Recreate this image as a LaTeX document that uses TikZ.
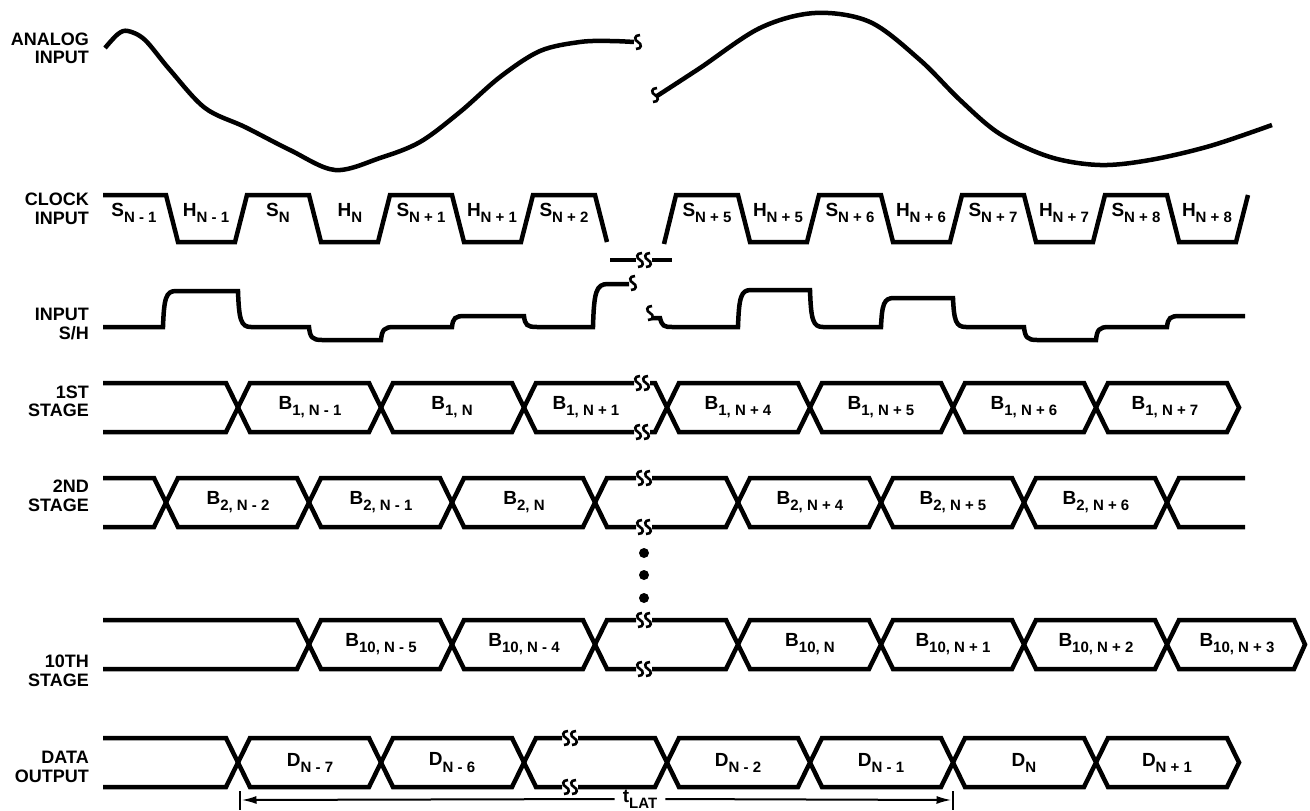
\documentclass[tikz,border=0pt]{standalone}
\usepackage{fontspec}
\setmainfont{Liberation Sans}
\usetikzlibrary{arrows.meta}
\newcommand\sbx[1]{\raisebox{-0.32em}{\fontsize{15}{15}\selectfont #1}}
\begin{document}
\begin{tikzpicture}[x=1pt,y=-1pt,
 wave/.style={line width=4.5pt, line join=miter, line cap=butt},
 sq/.style={line width=2.6pt},
 lbl/.style={font=\fontsize{18}{18.5}\selectfont\bfseries, align=right, anchor=east, inner sep=0pt},
 val/.style={font=\fontsize{19}{19}\selectfont\bfseries, inner sep=0pt},
 arr/.style={line width=2pt,-{Latex[length=15pt,width=8pt]}},
 squig/.pic={\draw[sq] (2,-7) .. controls (-4,-7) and (-4,-2) .. (0,0) .. controls (4,2) and (4,7) .. (-2,7);}
]
\useasboundingbox (0,0) rectangle (1310,811);

% ---------- labels ----------
\node[lbl] (lan) at (89,48.5) {ANALOG\\INPUT};
\node[lbl] (lck) at (89,209) {CLOCK\\INPUT};
\node[lbl] (lsh) at (89,324) {INPUT\\S/H};
\node[lbl] (l1) at (89,401.5) {1ST\\STAGE};
\node[lbl] (l2) at (89,496) {2ND\\STAGE};
\node[lbl] (l10) at (89,671) {10TH\\STAGE};
\node[lbl] (ld) at (89,767) {DATA\\OUTPUT};

% ---------- analog input ----------
\draw[wave, line join=round] plot[smooth, tension=0.55] coordinates {(105,48) (118,34) (128,31) (145,40) (170,70) (205,108) (245,127) (290,150) (335,170) (380,158) (420,142) (460,112) (500,77) (540,51) (580,42) (610,41) (634,42)};
\pic at (638,42) {squig};
\pic at (655,95) {squig};
\draw[wave, line join=round] plot[smooth, tension=0.55] coordinates {(657,96) (700,68) (760,28) (815,13) (870,22) (920,60) (960,100) (1000,134) (1050,157) (1100,165) (1150,160) (1210,146) (1272,125)};

% ---------- clock ----------
\draw[wave] (103,195) -- (166,195) -- (178,242) -- (235,242) -- (247,195) -- (309,195) -- (321,242) -- (378,242) -- (390,195) -- (452,195) -- (464,242) -- (521,242) -- (533,195) -- (595,195) -- (607,242);
\draw[wave] (664,244) -- (676,195) -- (738,195) -- (750,242) -- (807,242) -- (819,195) -- (881,195) -- (893,242) -- (950,242) -- (962,195) -- (1024,195) -- (1036,242) -- (1093,242) -- (1105,195) -- (1167,195) -- (1179,242) -- (1236,242) -- (1248,195);
\draw[wave] (610,260) -- (636,260);
\draw[wave] (652,260) -- (672,260);
\pic at (640,260) {squig};
\pic at (648,260) {squig};
\foreach \x/\t in {134/S\sbx{N - 1},278/S\sbx{N},421/S\sbx{N + 1},564/S\sbx{N + 2},707/S\sbx{N + 5},850/S\sbx{N + 6},993/S\sbx{N + 7},1136/S\sbx{N + 8}}
  \node[val] (s\x) at (\x,213) {\t};
\foreach \x/\t in {206/H\sbx{N - 1},350/H\sbx{N},492/H\sbx{N + 1},778/H\sbx{N + 5},921/H\sbx{N + 6},1064/H\sbx{N + 7},1207/H\sbx{N + 8}}
  \node[val] (h\x) at (\x,213) {\t};

% ---------- input S/H ----------
\draw[wave] (103,327) -- (163,327) .. controls (164,298) and (166,291) .. (176,291) -- (238,291) .. controls (239,320) and (241,327) .. (251,327) -- (309,327) .. controls (310,337) and (312,340) .. (322,340) -- (381,340) .. controls (382,330) and (384,327) .. (394,327) -- (452,327) .. controls (453,318) and (455,316) .. (465,316) -- (524,316) .. controls (525,325) and (527,327) .. (537,327) -- (593,327) .. controls (594,292) and (596,284) .. (608,284) -- (629,284);
\pic at (633,283) {squig};
\pic at (650,313) {squig};
\draw[wave] (652,318) -- (660,318) .. controls (662,326) and (664,327) .. (672,327) -- (738,327) .. controls (739,297) and (741,290) .. (751,290) -- (810,290) .. controls (811,320) and (813,327) .. (823,327) -- (881,327) .. controls (882,304) and (884,298) .. (894,298) -- (953,298) .. controls (954,321) and (956,327) .. (966,327) -- (1024,327) .. controls (1025,337) and (1027,340) .. (1037,340) -- (1096,340) .. controls (1097,330) and (1099,327) .. (1109,327) -- (1167,327) .. controls (1168,318) and (1170,316) .. (1180,316) -- (1245,316);

% ---------- 1st stage ----------
\draw[wave] (103,383) -- (226,383) -- (250,432) -- (369,432) -- (393,383) -- (512,383) -- (536,432) -- (634,432);
\draw[wave] (103,432) -- (226,432) -- (250,383) -- (369,383) -- (393,432) -- (512,432) -- (536,383) -- (634,383);
\foreach \y in {383,432} { \pic at (638,\y) {squig}; \pic at (646,\y) {squig}; }
\draw[wave] (650,383) -- (655,383) -- (679,432) -- (798,432) -- (822,383) -- (941,383) -- (965,432) -- (1084,432) -- (1108,383) -- (1227,383) -- (1239,407.5) -- (1227,432) -- (1108,432) -- (1084,383) -- (965,383) -- (941,432) -- (822,432) -- (798,383) -- (679,383) -- (655,432) -- (650,432);
\node[val] (b1a) at (310,407.5) {B\sbx{1, N - 1}};
\node[val] (b1b) at (452,407.5) {B\sbx{1, N}};
\node[val] (b1c) at (586,407.5) {B\sbx{1, N + 1}};
\node[val] (b1d) at (738,407.5) {B\sbx{1, N + 4}};
\node[val] (b1e) at (881,407.5) {B\sbx{1, N + 5}};
\node[val] (b1f) at (1024,407.5) {B\sbx{1, N + 6}};
\node[val] (b1g) at (1165,407.5) {B\sbx{1, N + 7}};

% ---------- 2nd stage ----------
\draw[wave] (103,478) -- (154,478) -- (178,527) -- (297,527) -- (321,478) -- (440,478) -- (464,527) -- (583,527) -- (607,478) -- (636,478);
\draw[wave] (103,527) -- (154,527) -- (178,478) -- (297,478) -- (321,527) -- (440,527) -- (464,478) -- (583,478) -- (607,527) -- (636,527);
\foreach \y in {478,527} { \pic at (640,\y) {squig}; \pic at (648,\y) {squig}; }
\draw[wave] (652,478) -- (726,478) -- (750,527) -- (869,527) -- (893,478) -- (1012,478) -- (1036,527) -- (1155,527) -- (1179,478) -- (1245,478);
\draw[wave] (652,527) -- (726,527) -- (750,478) -- (869,478) -- (893,527) -- (1012,527) -- (1036,478) -- (1155,478) -- (1179,527) -- (1245,527);
\node[val] (b2a) at (238,502.5) {B\sbx{2, N - 2}};
\node[val] (b2b) at (381,502.5) {B\sbx{2, N - 1}};
\node[val] (b2c) at (524,502.5) {B\sbx{2, N}};
\node[val] (b2d) at (810,502.5) {B\sbx{2, N + 4}};
\node[val] (b2e) at (953,502.5) {B\sbx{2, N + 5}};
\node[val] (b2f) at (1096,502.5) {B\sbx{2, N + 6}};

% ---------- dots ----------
\foreach \y in {553,575,598} \fill (644,\y) circle (5);

% ---------- 10th stage ----------
\draw[wave] (103,620) -- (297,620) -- (321,669) -- (440,669) -- (464,620) -- (583,620) -- (607,669) -- (636,669);
\draw[wave] (103,669) -- (297,669) -- (321,620) -- (440,620) -- (464,669) -- (583,669) -- (607,620) -- (636,620);
\foreach \y in {620,669} { \pic at (640,\y) {squig}; \pic at (648,\y) {squig}; }
\draw[wave] (652,620) -- (726,620) -- (750,669) -- (869,669) -- (893,620) -- (1012,620) -- (1036,669) -- (1155,669) -- (1179,620) -- (1294,620) -- (1305,644.5) -- (1294,669) -- (1179,669) -- (1155,620) -- (1036,620) -- (1012,669) -- (893,669) -- (869,620) -- (750,620) -- (726,669) -- (652,669);
\node[val] (bta) at (381,644.5) {B\sbx{10, N - 5}};
\node[val] (btb) at (524,644.5) {B\sbx{10, N - 4}};
\node[val] (btc) at (810,644.5) {B\sbx{10, N}};
\node[val] (btd) at (953,644.5) {B\sbx{10, N + 1}};
\node[val] (bte) at (1096,644.5) {B\sbx{10, N + 2}};
\node[val] (btf) at (1237,644.5) {B\sbx{10, N + 3}};

% ---------- data output ----------
\draw[wave] (103,738) -- (226,738) -- (250,787) -- (369,787) -- (393,738) -- (512,738) -- (536,787) -- (562,787);
\draw[wave] (103,787) -- (226,787) -- (250,738) -- (369,738) -- (393,787) -- (512,787) -- (536,738) -- (562,738);
\foreach \y in {738,787} { \pic at (566,\y) {squig}; \pic at (574,\y) {squig}; }
\draw[wave] (578,738) -- (655,738) -- (679,787) -- (798,787) -- (822,738) -- (941,738) -- (965,787) -- (1084,787) -- (1108,738) -- (1227,738) -- (1239,762.5) -- (1227,787) -- (1108,787) -- (1084,738) -- (965,738) -- (941,787) -- (822,787) -- (798,738) -- (679,738) -- (655,787) -- (578,787);
\node[val] (da) at (310,762.5) {D\sbx{N - 7}};
\node[val] (db) at (452,762.5) {D\sbx{N - 6}};
\node[val] (dc) at (738,762.5) {D\sbx{N - 2}};
\node[val] (dd) at (881,762.5) {D\sbx{N - 1}};
\node[val] (de) at (1024,762.5) {D\sbx{N}};
\node[val] (df) at (1167,762.5) {D\sbx{N + 1}};

% ---------- latency ----------
\draw[line width=2.5pt] (240,791) -- (240,810);
\draw[line width=2.5pt] (953,791) -- (953,810);
\coordinate (tl) at (241.5,800);
\coordinate (tr) at (951.5,800);
\node[val] (tlat) at (640,799) {t\sbx{LAT}};
\draw[arr] ([xshift=-8pt]tlat.west) -- (tl);
\draw[arr] ([xshift=8pt]tlat.east) -- (tr);
\end{tikzpicture}
\end{document}
